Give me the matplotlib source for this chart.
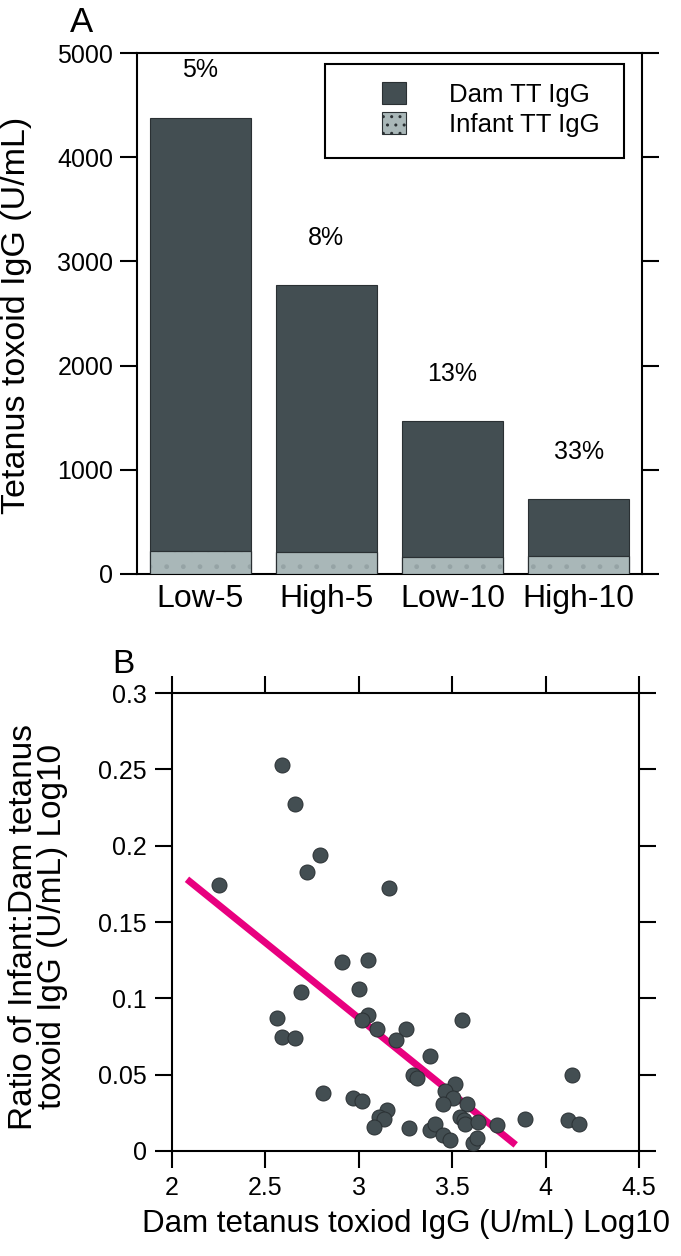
import matplotlib
matplotlib.use("Agg")
import matplotlib.pyplot as plt
from matplotlib.patches import Rectangle, Patch

plt.rcParams['font.family'] = ['Liberation Sans', 'DejaVu Sans']

# ---------------- data ----------------
groups = ['Low-5', 'High-5', 'Low-10', 'High-10']
dam_igg = [4380, 2770, 1470, 715]
infant_igg = [220, 208, 160, 176]
pct_labels = ['5%', '8%', '13%', '33%']

dam_log = [2.59, 2.66, 2.79, 2.72, 2.25, 3.16, 2.91, 3.05, 2.69, 3.00,
           2.56, 3.05, 3.015, 3.10, 3.25, 3.20, 2.59, 2.66, 3.55, 3.38,
           3.29, 3.31, 3.515, 2.81, 2.97, 3.015, 4.14, 3.46, 3.505, 3.45,
           3.58, 3.15, 3.11, 3.135, 3.08, 3.27, 3.38, 3.41, 3.45, 3.49,
           3.54, 3.565, 3.57, 3.64, 3.74, 3.61, 3.635, 3.89, 4.12, 4.18]
ratio_log = [0.253, 0.227, 0.194, 0.183, 0.174, 0.172, 0.124, 0.125, 0.104, 0.106,
             0.087, 0.089, 0.086, 0.080, 0.080, 0.073, 0.075, 0.074, 0.086, 0.062,
             0.050, 0.048, 0.044, 0.038, 0.035, 0.033, 0.050, 0.039, 0.035, 0.031,
             0.031, 0.027, 0.0225, 0.021, 0.016, 0.015, 0.014, 0.018, 0.0105, 0.007,
             0.0225, 0.020, 0.018, 0.019, 0.017, 0.0055, 0.0085, 0.021, 0.020, 0.0175]
fit_x = [2.08, 3.84]
fit_y = [0.178, 0.004]

yticks_a = [0, 1000, 2000, 3000, 4000, 5000]
xticks_b = [2, 2.5, 3, 3.5, 4, 4.5]
xticklabels_b = ['2', '2.5', '3', '3.5', '4', '4.5']
yticks_b = [0, 0.05, 0.1, 0.15, 0.2, 0.25, 0.3]
yticklabels_b = ['0', '0.05', '0.1', '0.15', '0.2', '0.25', '0.3']

# ---------------- style ----------------
dark = '#434e52'
light = '#a9b7b8'
dot = '#95a3a5'
edge = '#2a3033'
magenta = '#e8007f'
lw_sp = 1.5
tick_len = 12.2
tick_fs = 18

fig = plt.figure(figsize=(6.81, 12.56), dpi=100)

# ---------------- panel A ----------------
ax = fig.add_axes([0.2012, 0.5430, 0.7415, 0.4148])
x = list(range(len(groups)))
ax.bar(x, dam_igg, width=0.8, color=dark, edgecolor=edge, linewidth=0.8, zorder=2)
ax.bar(x, infant_igg, width=0.8, color=light, edgecolor=edge, linewidth=0.8, zorder=3)
ax.bar(x, infant_igg, width=0.8, facecolor='none', edgecolor=dot, hatch='.',
       linewidth=0, zorder=4)
ax.bar(x, infant_igg, width=0.8, facecolor='none', edgecolor=edge, linewidth=0.8, zorder=5)
for xi, h, lab in zip(x, dam_igg, pct_labels):
    ax.annotate(lab, (xi, h), xytext=(0, 34), textcoords='offset points',
                ha='center', va='center', fontsize=18)

ax.set_xlim(-0.5, 3.5)
ax.set_ylim(0, 5000)
ax.set_yticks(yticks_a)
ax.set_xticks(x)
ax.set_xticklabels(groups, fontsize=23)
ax.tick_params(axis='x', length=0, pad=7.5)
ax.tick_params(axis='y', direction='out', left=True, right=True, length=tick_len,
               width=lw_sp, labelsize=tick_fs, pad=5)
for s in ax.spines.values():
    s.set_linewidth(lw_sp)
ax.set_ylabel('Tetanus toxoid IgG (U/mL)', fontsize=24.5)
ax.yaxis.set_label_coords(-0.207, 0.497)

# legend frame + entries
ax.add_patch(Rectangle((0.372, 0.798), 0.592, 0.181, transform=ax.transAxes,
                       facecolor='white', edgecolor='black', linewidth=1.5, zorder=6))
handles = [Patch(facecolor=dark, edgecolor=edge, linewidth=0.8),
           Patch(facecolor=light, edgecolor=edge, linewidth=0.8, hatch='..')]
leg = ax.legend(handles, ['Dam TT IgG', 'Infant TT IgG'], loc='upper left',
                bbox_to_anchor=(0.485, 0.945), frameon=False, fontsize=18.5,
                borderpad=0, borderaxespad=0, handlelength=0.93, handleheight=0.97,
                handletextpad=1.7, labelspacing=0.2)
leg.set_zorder(7)

fig.text(0.102, 0.9745, 'A', fontsize=25, ha='left', va='baseline')

# ---------------- panel B ----------------
ax2 = fig.add_axes([0.2526, 0.0836, 0.6857, 0.3646])
ax2.plot(fit_x, fit_y, color=magenta, linewidth=5, solid_capstyle='butt', zorder=2)
ax2.scatter(dam_log, ratio_log, s=117, color=dark, edgecolors=edge, linewidths=0.7,
            zorder=3)
ax2.set_xlim(2, 4.5)
ax2.set_ylim(0, 0.3)
ax2.set_xticks(xticks_b)
ax2.set_xticklabels(xticklabels_b)
ax2.set_yticks(yticks_b)
ax2.set_yticklabels(yticklabels_b)
ax2.tick_params(axis='both', direction='out', top=True, right=True, length=tick_len,
                width=lw_sp, labelsize=tick_fs)
ax2.tick_params(axis='y', pad=6)
ax2.tick_params(axis='x', pad=6)
for s in ax2.spines.values():
    s.set_linewidth(lw_sp)
ax2.set_xlabel('Dam tetanus toxiod IgG (U/mL) Log10', fontsize=22.5, labelpad=6)
ax2.set_ylabel('Ratio of Infant:Dam tetanus\ntoxoid IgG (U/mL) Log10', fontsize=24,
               linespacing=0.95)
ax2.yaxis.set_label_coords(-0.222, 0.49)

fig.text(0.165, 0.4645, 'B', fontsize=24, ha='left', va='baseline')

fig.savefig('out.png', dpi=100)
